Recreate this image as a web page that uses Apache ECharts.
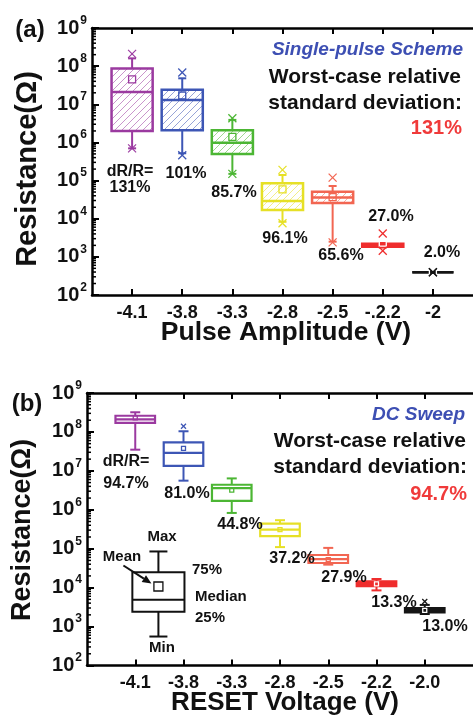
<!DOCTYPE html>
<html>
<head>
<meta charset="utf-8">
<script src="https://cdn.jsdelivr.net/npm/echarts@6/dist/echarts.min.js"></script>
<style>
html, body { margin: 0; padding: 0; background: #fff; }
#chart { width: 473px; height: 716px; }
</style>
</head>
<body>
<div id="chart"></div>
<script>
// ---- data ----
var CATS_A = ['-4.1', '-3.8', '-3.3', '-2.8', '-2.5', '-.2.2', '-2'];
var CATS_B = ['-4.1', '-3.8', '-3.3', '-2.8', '-2.5', '-2.2', '-2.0'];
var POS = [0, 1, 2, 3, 4, 5, 6];

// (a) single-pulse scheme
var A_MAX  = [1.6e8, 4.8e7, 3.9e6, 1.4e5, 7.2e4, 2.3e3, 395];
var A_Q3   = [8.7e7, 2.4e7, 2.1e6, 8.5e4, 5.1e4, 2.2e3, 395];
var A_MED  = [2.1e7, 1.3e7, 9.8e5, 2.9e4, 3.6e4, 2.0e3, 395];
var A_Q1   = [2.0e6, 2.1e6, 5.0e5, 1.7e4, 2.6e4, 1.85e3, 395];
var A_MIN  = [7.0e5, 5.2e5, 1.5e5, 8.3e3, 2.5e3, 1.75e3, 395];
var A_MEAN = [4.5e7, 1.7e7, 1.4e6, 5.9e4, 3.7e4, 2.35e3, 395];
var A_XHI  = [2.1e8, 6.8e7, 4.3e6, 1.9e5, 1.2e5, 4.1e3, 395];
var A_XLO  = [7.0e5, 4.6e5, 1.5e5, 7.6e3, 2.4e3, 1.45e3, 395];
var A_DRR  = ['131%', '101%', '85.7%', '96.1%', '65.6%', '27.0%', '2.0%'];

// (b) DC sweep
var B_MAX  = [3.2e8, 1.04e8, 6.4e6, 5.4e5, 1.05e5, 1.67e4, 3.6e3];
var B_Q3   = [2.6e8, 5.4e7, 4.4e6, 4.4e5, 6.9e4, 1.45e4, 3.0e3];
var B_MED  = [2.1e8, 2.9e7, 3.6e6, 3.1e5, 5.4e4, 1.26e4, 2.63e3];
var B_Q1   = [1.7e8, 1.35e7, 1.7e6, 2.1e5, 4.3e4, 1.1e4, 2.3e3];
var B_MIN  = [3.5e7, 5.6e6, 8.3e5, 1.1e5, 3.9e4, 8.5e3, 2.1e3];
var B_MEAN = [2.3e8, 3.8e7, 3.2e6, 3.1e5, 5.2e4, 1.25e4, 2.6e3];
var B_XHI  = [null, 1.4e8, null, null, null, null, 4.4e3];
var B_DRR  = ['94.7%', '81.0%', '44.8%', '37.2%', '27.9%', '13.3%', '13.0%'];

// key box in (b)
var LEG_POS  = [0.48];
var LEG_MAX  = [8.5e4];
var LEG_Q3   = [2.5e4];
var LEG_MED  = [4.9e3];
var LEG_Q1   = [2.4e3];
var LEG_MIN  = [555];
var LEG_MEAN = [1.07e4];

// log minor ticks
var DECADES = [1e2, 1e3, 1e4, 1e5, 1e6, 1e7, 1e8];
var MINOR_MULT = [2, 3, 4, 5, 6, 7, 8, 9];

// ---- styles ----
var FONT = '"Liberation Sans", Arial, Helvetica, sans-serif';
var COLORS = ['#9b3aa0', '#3d56b5', '#4cb634', '#e6e026', '#f26652', '#ef2d2d', '#151515'];
var A_SOLID = [false, false, false, false, false, true, true];
var B_SOLID = [false, false, false, false, false, true, true];
var A_XMIN = -0.8, A_XMAX = 6.8;
var B_XMIN = -1, B_XMAX = 7;

function hatch(color) {
  var c = document.createElement('canvas');
  c.width = 7; c.height = 7;
  var g = c.getContext('2d');
  g.strokeStyle = color;
  g.globalAlpha = 0.6;
  g.lineWidth = 0.9;
  g.beginPath();
  g.moveTo(0, 7); g.lineTo(7, 0);
  g.moveTo(-1, 1); g.lineTo(1, -1);
  g.moveTo(6, 8); g.lineTo(8, 6);
  g.stroke();
  return c;
}

function xMark(cx, cy, s, col) {
  return [
    { type: 'line', shape: { x1: cx - s, y1: cy - s, x2: cx + s, y2: cy + s }, style: { stroke: col, lineWidth: 1.2 } },
    { type: 'line', shape: { x1: cx - s, y1: cy + s, x2: cx + s, y2: cy - s }, style: { stroke: col, lineWidth: 1.2 } }
  ];
}

function makeBox(d) {
  return function (params, api) {
    var i = params.dataIndex;
    var x = d.pos[i];
    var col = d.color[i];
    var c0 = api.coord([x, d.med[i]]);
    var cx = c0[0];
    var hw = api.coord([x + d.width / 2, d.med[i]])[0] - cx;
    var py = function (v) { return api.coord([x, v])[1]; };
    var yMax = py(d.max[i]), yQ3 = py(d.q3[i]), yMed = py(d.med[i]), yQ1 = py(d.q1[i]), yMin = py(d.min[i]);
    var ls = { stroke: col, lineWidth: 2 };
    var fill = d.solid[i] ? col : (d.hatch ? { image: hatch(col), repeat: 'repeat' } : '#fff');
    var kids = [
      { type: 'line', shape: { x1: cx, y1: yQ3, x2: cx, y2: yMax }, style: ls },
      { type: 'line', shape: { x1: cx, y1: yQ1, x2: cx, y2: yMin }, style: ls },
      { type: 'line', shape: { x1: cx - d.cap, y1: yMax, x2: cx + d.cap, y2: yMax }, style: ls },
      { type: 'line', shape: { x1: cx - d.cap, y1: yMin, x2: cx + d.cap, y2: yMin }, style: ls },
      { type: 'rect', shape: { x: cx - hw, y: yQ3, width: 2 * hw, height: yQ1 - yQ3 },
        style: { fill: fill, stroke: col, lineWidth: d.lw } },
      { type: 'line', shape: { x1: cx - hw, y1: yMed, x2: cx + hw, y2: yMed }, style: { stroke: col, lineWidth: d.lw } }
    ];
    var ym = py(d.mean[i]);
    var ms = d.meanSize;
    kids.push({ type: 'rect', shape: { x: cx - ms / 2, y: ym - ms / 2, width: ms, height: ms },
      style: { fill: d.meanFill || 'none', stroke: d.solid[i] ? '#fff' : col, lineWidth: 1.3 } });
    if (d.xhi && d.xhi[i] != null) kids = kids.concat(xMark(cx, py(d.xhi[i]), d.xs, col));
    if (d.xlo && d.xlo[i] != null) kids = kids.concat(xMark(cx, py(d.xlo[i]), d.xs, col));
    return { type: 'group', children: kids };
  };
}

function minorTicks(xmin) {
  return function (params, api) {
    var p = api.coord([xmin, api.value(1)]);
    return { type: 'line', shape: { x1: p[0], y1: p[1], x2: p[0] + 4, y2: p[1] }, style: { stroke: '#000', lineWidth: 1.5 } };
  };
}

var MINOR = [];
DECADES.forEach(function (d) { MINOR_MULT.forEach(function (m) { MINOR.push(d * m); }); });

function xAxisPair(grid, xmin, xmax, cats) {
  var common = {
    gridIndex: grid, type: 'value', min: xmin, max: xmax,
    axisLine: { show: true, onZero: false, lineStyle: { color: '#000', width: 2.5 } },
    axisTick: { show: true, inside: true, length: 6, customValues: POS, lineStyle: { color: '#000', width: 2 } },
    splitLine: { show: false }
  };
  var bottom = echarts.util.merge({
    position: 'bottom',
    axisLabel: { customValues: POS, margin: 9, color: '#111', fontSize: 18, fontWeight: 'bold', fontFamily: FONT,
      formatter: function (v) { return cats[Math.round(v)]; } }
  }, common, true);
  var top = echarts.util.merge({ position: 'top', axisLabel: { show: false } }, common, true);
  return [bottom, top];
}

function yAxisLog(grid) {
  return {
    gridIndex: grid, type: 'log', logBase: 10, min: 100, max: 1e9, splitNumber: 7, position: 'left',
    axisLine: { show: true, onZero: false, lineStyle: { color: '#000', width: 2.5 } },
    axisTick: { show: true, inside: true, length: 7, lineStyle: { color: '#000', width: 2 } },
    splitLine: { show: false },
    axisLabel: {
      margin: 5, color: '#111',
      formatter: function (v) { return '{b|10}{s|' + Math.round(Math.log(v) / Math.LN10) + '}'; },
      rich: {
        b: { fontSize: 20, fontWeight: 'bold', fontFamily: FONT, color: '#111' },
        s: { fontSize: 12, fontWeight: 'bold', fontFamily: FONT, color: '#111', padding: [0, 0, 15, 1] }
      }
    }
  };
}

var boxA = { pos: POS, color: COLORS, max: A_MAX, q3: A_Q3, med: A_MED, q1: A_Q1, min: A_MIN, mean: A_MEAN,
  xhi: A_XHI, xlo: A_XLO, solid: A_SOLID, hatch: true, width: 0.82, cap: 4, lw: 2.5, meanSize: 7, xs: 4 };
var boxB = { pos: POS, color: COLORS, max: B_MAX, q3: B_Q3, med: B_MED, q1: B_Q1, min: B_MIN, mean: B_MEAN,
  xhi: B_XHI, xlo: null, solid: B_SOLID, hatch: false, width: 0.82, cap: 5, lw: 2.2, meanSize: 4, xs: 2.5 };
var boxLeg = { pos: LEG_POS, color: ['#111'], max: LEG_MAX, q3: LEG_Q3, med: LEG_MED, q1: LEG_Q1, min: LEG_MIN, mean: LEG_MEAN,
  xhi: null, xlo: null, solid: [false], hatch: false, width: 1.08, cap: 9, lw: 2, meanSize: 9, xs: 0 };

function txt(x, y, s, size, opts) {
  opts = opts || {};
  return {
    type: 'text', x: x, y: y, rotation: opts.rot || 0, z: 20,
    style: {
      text: s, fill: opts.color || '#111', align: opts.align || 'center', verticalAlign: 'middle',
      font: (opts.italic ? 'italic ' : '') + 'bold ' + size + 'px ' + FONT
    }
  };
}

var graphics = [
  txt(30, 30, '(a)', 24),
  txt(27, 404, '(b)', 24),
  txt(28, 169, 'Resistance(\u03a9)', 29, { rot: Math.PI / 2 }),
  txt(23, 530, 'Resistance(\u03a9)', 27, { rot: Math.PI / 2 }),
  txt(286, 333, 'Pulse Amplitude (V)', 26.5),
  txt(285, 703, 'RESET Voltage (V)', 26),
  // panel (a) notes
  txt(463, 50, 'Single-pulse Scheme', 19, { align: 'right', italic: true, color: '#3d4fb3' }),
  txt(461, 77, 'Worst-case relative', 21, { align: 'right' }),
  txt(462, 103, 'standard deviation:', 21, { align: 'right' }),
  txt(462, 128, A_DRR[0], 20, { align: 'right', color: '#f03a3a' }),
  txt(130, 172, 'dR/R=', 16),
  txt(130, 188, A_DRR[0], 16),
  txt(186, 174, A_DRR[1], 16),
  txt(234, 193, A_DRR[2], 16),
  txt(285, 239, A_DRR[3], 16),
  txt(341, 256, A_DRR[4], 16),
  txt(391, 217, A_DRR[5], 16),
  txt(442, 253, A_DRR[6], 16),
  // panel (b) notes
  txt(465, 415, 'DC Sweep', 19, { align: 'right', italic: true, color: '#3d4fb3' }),
  txt(466, 441, 'Worst-case relative', 21, { align: 'right' }),
  txt(467, 467, 'standard deviation:', 21, { align: 'right' }),
  txt(467, 494, B_DRR[0], 20, { align: 'right', color: '#f03a3a' }),
  txt(126, 462, 'dR/R=', 16),
  txt(126, 484, B_DRR[0], 16),
  txt(187, 494, B_DRR[1], 16),
  txt(240, 525, B_DRR[2], 16),
  txt(292, 559, B_DRR[3], 16),
  txt(344, 578, B_DRR[4], 16),
  txt(394, 603, B_DRR[5], 16),
  txt(445, 627, B_DRR[6], 16),
  // key labels
  txt(162, 537, 'Max', 15),
  txt(122, 557, 'Mean', 15),
  txt(192, 570, '75%', 15, { align: 'left' }),
  txt(195, 597, 'Median', 15, { align: 'left' }),
  txt(195, 618, '25%', 15, { align: 'left' }),
  txt(162, 648, 'Min', 15)
];

var chart = echarts.init(document.getElementById('chart'), null, { renderer: 'canvas' });
chart.setOption({
  animation: false,
  backgroundColor: '#fff',
  grid: [
    { left: 92, top: 28, width: 388, height: 267 },
    { left: 87, top: 393, width: 409, height: 272.5 }
  ],
  xAxis: xAxisPair(0, A_XMIN, A_XMAX, CATS_A).concat(xAxisPair(1, B_XMIN, B_XMAX, CATS_B)),
  yAxis: [yAxisLog(0), yAxisLog(1)],
  series: [
    { type: 'custom', xAxisIndex: 0, yAxisIndex: 0, silent: true, clip: false, z: 3,
      data: MINOR.map(function (v) { return [A_XMIN, v]; }), renderItem: minorTicks(A_XMIN) },
    { type: 'custom', xAxisIndex: 2, yAxisIndex: 1, silent: true, clip: false, z: 3,
      data: MINOR.map(function (v) { return [B_XMIN, v]; }), renderItem: minorTicks(B_XMIN) },
    { type: 'custom', xAxisIndex: 0, yAxisIndex: 0, silent: true, clip: false, z: 5,
      data: POS.map(function (i) { return [i, A_MED[i]]; }), renderItem: makeBox(boxA) },
    { type: 'custom', xAxisIndex: 2, yAxisIndex: 1, silent: true, clip: false, z: 5,
      data: POS.map(function (i) { return [i, B_MED[i]]; }), renderItem: makeBox(boxB) },
    { type: 'custom', xAxisIndex: 2, yAxisIndex: 1, silent: true, clip: false, z: 5,
      data: LEG_POS.map(function (p, i) { return [p, LEG_MED[i]]; }), renderItem: makeBox(boxLeg) }
  ],
  graphic: graphics
});

// arrow from "Mean" to the key box's mean marker
var tip = chart.convertToPixel({ xAxisIndex: 2, yAxisIndex: 1 }, [LEG_POS[0], LEG_MEAN[0]]);
var tx = tip[0] - 7, ty = tip[1] - 3;
var sx = tx - 28, sy = ty - 18;
var ang = Math.atan2(ty - sy, tx - sx);
var ah = 9, aw = 4;
var bx = tx - ah * Math.cos(ang), by = ty - ah * Math.sin(ang);
chart.setOption({
  graphic: graphics.concat([
    { type: 'line', z: 20, shape: { x1: sx, y1: sy, x2: bx, y2: by }, style: { stroke: '#111', lineWidth: 2 } },
    { type: 'polygon', z: 20, shape: { points: [[tx, ty],
      [bx + aw * Math.sin(ang), by - aw * Math.cos(ang)],
      [bx - aw * Math.sin(ang), by + aw * Math.cos(ang)]] }, style: { fill: '#111' } }
  ])
});
</script>
</body>
</html>
